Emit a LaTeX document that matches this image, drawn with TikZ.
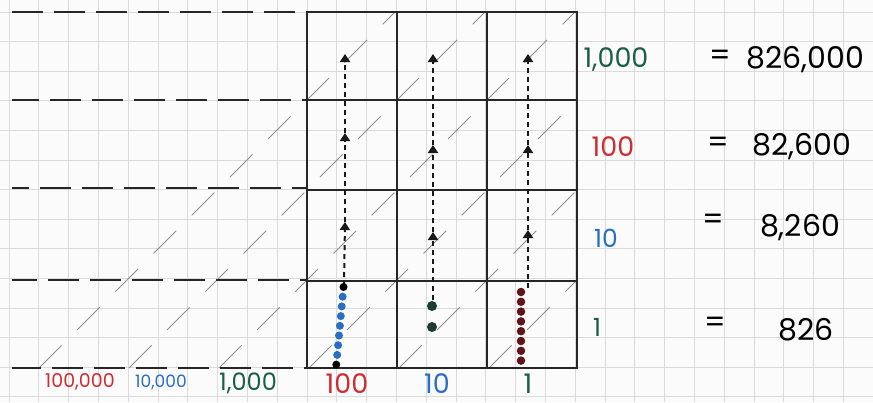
\documentclass[tikz,border=0pt]{standalone}
\usepackage{fontspec}
\setmainfont{Poppins}
\usepackage{xcolor}
\usetikzlibrary{arrows.meta}

\definecolor{penred}{RGB}{205,45,50}
\definecolor{penblue}{RGB}{40,110,195}
\definecolor{pengreen}{RGB}{25,95,70}
\definecolor{beadred}{RGB}{95,20,25}
\definecolor{beadgreen}{RGB}{30,60,50}
\definecolor{paper}{RGB}{251,251,251}

\begin{document}
\begin{tikzpicture}[
  x=1pt, y=-1pt, >=Triangle,
  paperline/.style={black!14, line width=0.8pt},
  frame/.style={line width=2.8pt, black!85},
  shiftline/.style={line width=2.9pt, black!85, dash pattern=on 31pt off 11pt},
  diag/.style={black!45, line width=0.9pt, dash pattern=on 32pt off 22pt},
  carry/.style={line width=2pt, black!90, dash pattern=on 5pt off 4pt,
    -{Triangle[width=10pt,length=8pt]}},
  bead/.style={circle, inner sep=0pt, minimum size=8pt},
  digitlabel/.style={font=\fontsize{27}{28}\selectfont, inner sep=0pt},
  eqlabel/.style={font=\fontsize{30}{30}\selectfont, inner sep=0pt}
]
% graph paper
\fill[paper] (0,0) rectangle (873,402);
\useasboundingbox (0,0) rectangle (873,402);
\foreach \k in {-10,...,19} \draw[paperline] (307+29.8*\k,0) -- (307+29.8*\k,402);
\foreach \k in {0,...,13} \draw[paperline] (0,12+29.6*\k) -- (873,12+29.6*\k);

% shifted place-value diagonals
\draw[diag] (39,368) -- (395,12);
\draw[diag] (129,368) -- (485,12);
\draw[diag] (219,368) -- (575,12);
\draw[diag] (309,368) -- (577,100);
\draw[diag] (399,368) -- (577,190);
\draw[diag] (489,368) -- (577,280);

% rows extended to the left
\foreach \y/\ph in {12/0,100/4,188/14,280/6,368/2}
  \draw[shiftline, dash phase=\ph pt] (12,\y) -- (307,\y);

% the place-value table
\draw[frame] (307,12) rectangle (577,368);
\foreach \x in {397,487} \draw[frame] (\x,12) -- (\x,368);
\foreach \y in {100,190,281} \draw[frame] (307,\y) -- (577,\y);

% carry points
\coordinate (h0) at (344,286); \coordinate (h1) at (345,222);
\coordinate (h2) at (345,133); \coordinate (h3) at (345,54);
\coordinate (t0) at (433,300); \coordinate (t1) at (433,232);
\coordinate (t2) at (433,145); \coordinate (t3) at (433,54);
\coordinate (u0) at (528,288); \coordinate (u1) at (528,230);
\coordinate (u2) at (528,145); \coordinate (u3) at (528,54);

\foreach \c in {h,t,u} {
  \draw[carry] (\c0) -- (\c1);
  \draw[carry] (\c1) -- (\c2);
  \draw[carry] (\c2) -- (\c3);
}

% beads
\foreach \i in {0,...,8} {
  \pgfmathsetmacro{\bx}{343.5-0.9*\i}
  \pgfmathsetmacro{\by}{287+9.7*\i}
  \ifnum\i=0 \def\bc{black}\else\ifnum\i=8 \def\bc{black}\else\def\bc{penblue}\fi\fi
  \node[bead, fill=\bc] (hb\i) at (\bx,\by) {};
}
\node[bead, fill=beadgreen, minimum size=10pt] (tb1) at (432,306) {};
\node[bead, fill=beadgreen, minimum size=10pt] (tb2) at (432,327) {};
\foreach \i in {0,...,7} {
  \pgfmathsetmacro{\by}{292+9.8*\i}
  \node[bead, fill=beadred, minimum size=8.5pt] (ub\i) at (521,\by) {};
}

% column headings
\node[font=\fontsize{19}{19}\selectfont, penred, inner sep=0pt] (c100k) at (80,382) {100,000};
\node[font=\fontsize{17}{17}\selectfont, penblue, inner sep=0pt] (c10k) at (161,382) {10,000};
\node[font=\fontsize{24}{24}\selectfont, pengreen, inner sep=0pt] (c1k) at (248,383) {1,000};
\node[digitlabel, penred] (c100) at (347,384) {100};
\node[digitlabel, penblue] (c10) at (437,384) {10};
\node[digitlabel, pengreen] (c1) at (528,384) {1};

% row multipliers
\node[digitlabel, pengreen] (r1k) at (616,60) {1,000};
\node[digitlabel, penred] (r100) at (613,147) {100};
\node[digitlabel, penblue, font=\fontsize{25}{25}\selectfont] (r10) at (606,238) {10};
\node[digitlabel, pengreen, font=\fontsize{25}{25}\selectfont] (r1) at (597,327) {1};

% results
\node[eqlabel] (e1k) at (720,58) {=};
\node[eqlabel] (v1k) at (805,60) {826,000};
\node[eqlabel] (e100) at (718,145) {=};
\node[eqlabel] (v100) at (802,147) {82,600};
\node[eqlabel] (e10) at (713,222) {=};
\node[eqlabel] (v10) at (800,228) {8,260};
\node[eqlabel] (e1) at (715,325) {=};
\node[eqlabel] (v1) at (806,330) {826};
\end{tikzpicture}
\end{document}
